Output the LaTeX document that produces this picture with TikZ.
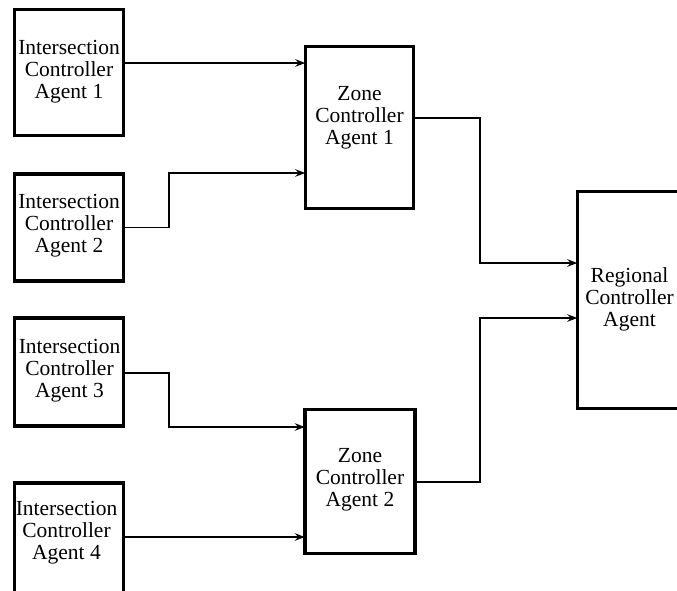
\documentclass[tikz,border=0pt]{standalone}
\usepackage{fontspec}
\setmainfont{Liberation Serif}
\usetikzlibrary{arrows.meta}
\begin{document}
\begin{tikzpicture}[x=1pt,y=-1pt,
  box/.style={draw=black,line width=3.5pt,fill=white,inner sep=0pt,minimum width=#1},
  box/.default=109pt,
  lbl/.style={align=center,inner sep=0pt,font=\fontsize{21.5}{22}\selectfont},
  arr/.style={line width=1.2pt,shorten >=-1.5pt,-{Stealth[length=10pt,width=7.5pt,inset=3.5pt]}}]
\useasboundingbox (0,0) rectangle (677,590);
\clip (0,0) rectangle (677,590);
% boxes
\node[box,minimum height=126pt] (ica1) at (69,72.5) {};
\node[box,minimum height=107pt] (ica2) at (69,227.5) {};
\node[box,minimum height=108pt] (ica3) at (69,372) {};
\node[box,minimum height=117pt] (ica4) at (69,541.5) {};
\node[box=108pt,minimum height=162pt] (zca1) at (359.5,127.5) {};
\node[box=110pt,minimum height=144pt] (zca2) at (360,481.7) {};
\node[box=104pt,minimum height=217pt] (rca) at (629.5,300) {};
% labels
\node[lbl] (t1) at (69,72) {Intersection\\Controller\\Agent 1};
\node[lbl] (t2) at (69,226) {Intersection\\Controller\\Agent 2};
\node[lbl] (t3) at (69.5,370.5) {Intersection\\Controller\\Agent 3};
\node[lbl] (t4) at (66.5,533) {Intersection\\Controller\\Agent 4};
\node[lbl] (t5) at (359.5,118) {Zone\\Controller\\Agent 1};
\node[lbl] (t6) at (360,480) {Zone\\Controller\\Agent 2};
\node[lbl] (t7) at (629.5,299) {Regional\\Controller\\Agent};
% connectors
\draw[arr] (ica1.east |- 0,63) -- (zca1.west |- 0,63);
\draw[arr] (ica2.east |- 0,227.7) -| (169,200) |- (zca1.west |- 0,173);
\draw[arr] (ica3.east |- 0,373) -| (169,400) |- (zca2.west |- 0,427);
\draw[arr] (ica4.east |- 0,537) -- (zca2.west |- 0,537);
\draw[arr] (zca1.east |- 0,118) -| (480,200) |- (rca.west |- 0,263);
\draw[arr] (zca2.east |- 0,482) -| (480,400) |- (rca.west |- 0,318);
\end{tikzpicture}
\end{document}
